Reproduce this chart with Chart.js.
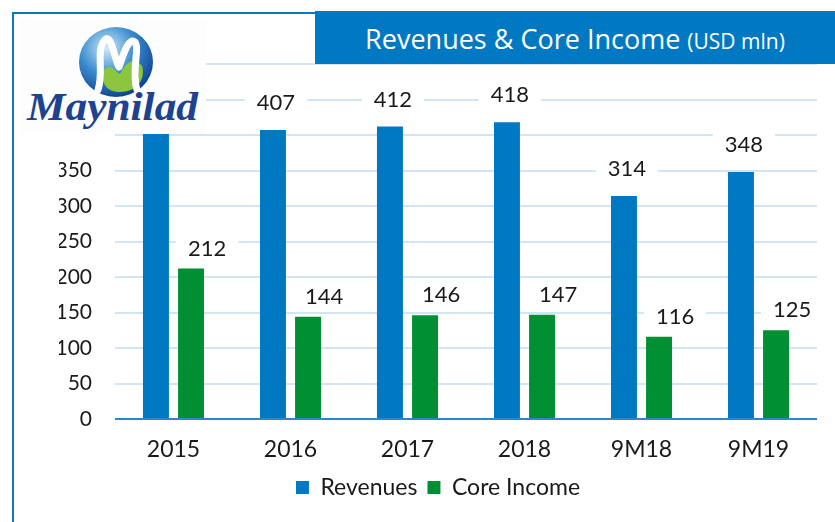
<!DOCTYPE html>
<html>
<head>
<meta charset="utf-8">
<script src="https://cdn.jsdelivr.net/npm/chart.js@4.4.1/dist/chart.umd.min.js"></script>
<style>
  html, body { margin: 0; padding: 0; background: #fff; }
  #wrap { position: relative; width: 835px; height: 522px; overflow: hidden; }
  #c { position: absolute; left: 0; top: 0; }
  .ov { position: absolute; }
  #title { left: 315px; top: 11px; width: 520px; height: 53px; background: #0079c2; color: #fff;
           font-family: "Open Sans", sans-serif; font-size: 27px; line-height: 55px; text-align: center; white-space: nowrap; }
  #title small { font-size: 21px; }
  #bl { left: 12px; top: 12px; width: 2px; height: 510px; background: #0a79c2; }
  #bt { left: 12px; top: 12px; width: 303px; height: 2px; background: #0a79c2; }
  #logo { left: 20px; top: 20px; width: 186px; height: 114px; background: #fdfdfd; }
</style>
</head>
<body>
<div id="wrap">
  <canvas id="c" width="835" height="522"></canvas>
  <div class="ov" id="bl"></div>
  <div class="ov" id="bt"></div>
  <div class="ov" id="title">Revenues &amp; Core Income <small>(USD mln)</small></div>
  <div class="ov" id="logo">
    <svg width="186" height="114" viewBox="20 20 186 114" xmlns="http://www.w3.org/2000/svg">
      <defs>
        <radialGradient id="gb" cx="0.38" cy="0.3" r="0.75">
          <stop offset="0" stop-color="#cfeaf9"/>
          <stop offset="0.5" stop-color="#3a8ccf"/>
          <stop offset="1" stop-color="#0a3d8c"/>
        </radialGradient>
        <clipPath id="cp"><ellipse cx="116" cy="62" rx="37" ry="35"/></clipPath>
      </defs>
      <ellipse cx="116" cy="62" rx="37" ry="35" fill="url(#gb)"/>
      <g clip-path="url(#cp)">
        <path d="M104 70 C110 62 116 72 120 74 C126 62 134 56 142 66 C146 80 136 92 120 92 C106 92 100 82 104 70 Z" fill="#8cc63f"/>
      </g>
      <path d="M98 90 C104 72 96 52 104 41 C111 31 114 58 119 67 C123 56 128 37 135 42 C140 48 131 72 137 90"
            fill="none" stroke="#ffffff" stroke-width="7" stroke-linecap="round" stroke-linejoin="round"/>
      <text x="27" y="120" font-family="Liberation Serif, serif" font-weight="bold" font-style="italic"
            font-size="40" fill="#1c4290" textLength="171" lengthAdjust="spacingAndGlyphs">Maynilad</text>
    </svg>
  </div>
</div>
<script>
const categories = ["2015", "2016", "2017", "2018", "9M18", "9M19"];
const revenues = [402, 407, 412, 418, 314, 348];
const coreIncome = [212, 144, 146, 147, 116, 125];
const seriesNames = ["Revenues", "Core Income"];
const yMin = 0, yMax = 500, yStep = 50, yLabelMax = 350;

const BLUE = "#0079c2", GREEN = "#008f33", GRID = "#d2e5f5", AXIS = "#2c86c9";
const NUM_FONT = "Lato, 'Open Sans', sans-serif";

const valueLabels = {
  id: "valueLabels",
  beforeDatasetsDraw(chart) {
    const ctx = chart.ctx;
    chart.data.datasets.forEach((ds, i) => {
      const meta = chart.getDatasetMeta(i);
      const dx = i === 0 ? 3 : 16, dy = i === 0 ? 27 : 20;
      meta.data.forEach((bar, j) => {
        const txt = String(ds.data[j]);
        const x = bar.x + dx, y = bar.y - dy;
        ctx.save();
        ctx.font = "22px " + NUM_FONT;
        const w = ctx.measureText(txt).width + 24;
        ctx.fillStyle = "#ffffff";
        ctx.fillRect(x - w / 2, y - 13, w, 26);
        ctx.fillStyle = "#1a1a1a";
        ctx.textAlign = "center";
        ctx.textBaseline = "middle";
        ctx.fillText(txt, x, y);
        ctx.restore();
      });
    });
  }
};

new Chart(document.getElementById("c"), {
  type: "bar",
  data: {
    labels: categories,
    datasets: [
      { label: seriesNames[0], data: revenues, backgroundColor: BLUE, categoryPercentage: 0.6, barPercentage: 0.74 },
      { label: seriesNames[1], data: coreIncome, backgroundColor: GREEN, categoryPercentage: 0.6, barPercentage: 0.74 }
    ]
  },
  options: {
    responsive: false,
    animation: false,
    layout: { padding: { left: 59, right: 18, top: 64, bottom: 13 } },
    plugins: {
      tooltip: { enabled: false },
      legend: {
        position: "bottom",
        labels: {
          boxWidth: 13, boxHeight: 13, padding: 10,
          color: "#1a1a1a",
          font: { family: NUM_FONT, size: 23 }
        }
      }
    },
    scales: {
      x: {
        grid: { display: false },
        border: { display: false },
        ticks: { color: "#1a1a1a", font: { family: NUM_FONT, size: 23 }, padding: 9, maxRotation: 0 },
        afterFit(s) { s.height = 47; }
      },
      y: {
        min: yMin, max: yMax,
        border: { display: false },
        grid: {
          drawTicks: false,
          color: c => (c.tick && c.tick.value === 0 ? AXIS : GRID),
          lineWidth: 2
        },
        ticks: {
          stepSize: yStep, padding: 23, color: "#1a1a1a",
          font: { family: NUM_FONT, size: 21 },
          callback: v => (v <= yLabelMax ? String(v) : "")
        },
        afterFit(s) { s.width = 56; }
      }
    }
  },
  plugins: [valueLabels]
});
</script>
</body>
</html>
